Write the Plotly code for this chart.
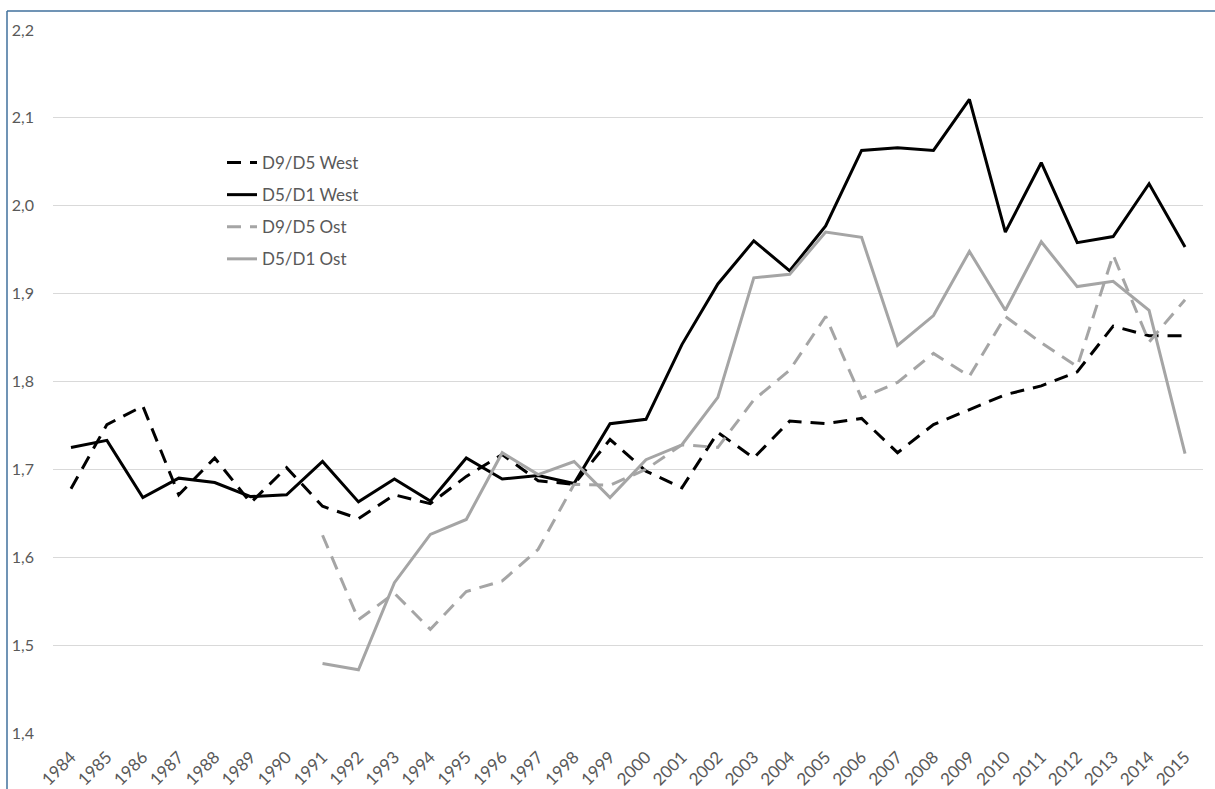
import plotly.graph_objects as go

years = [str(y) for y in range(1984, 2016)]

d9d5_west = [1.678, 1.751, 1.772, 1.671, 1.713, 1.662, 1.702, 1.658, 1.644, 1.671,
             1.661, 1.692, 1.717, 1.687, 1.683, 1.734, 1.698, 1.679, 1.742, 1.713,
             1.755, 1.752, 1.758, 1.719, 1.751, 1.768, 1.785, 1.795, 1.811, 1.863,
             1.852, 1.852]
d5d1_west = [1.725, 1.733, 1.668, 1.690, 1.685, 1.669, 1.671, 1.709, 1.663, 1.689,
             1.664, 1.713, 1.689, 1.693, 1.684, 1.752, 1.757, 1.842, 1.911, 1.960,
             1.926, 1.977, 2.063, 2.066, 2.063, 2.121, 1.970, 2.049, 1.958, 1.965,
             2.025, 1.953]
d9d5_ost = [None] * 7 + [1.625, 1.529, 1.559, 1.518, 1.561, 1.573, 1.609, 1.683, 1.682,
                         1.700, 1.728, 1.725, 1.779, 1.813, 1.874, 1.781, 1.799, 1.832,
                         1.806, 1.874, 1.844, 1.817, 1.944, 1.845, 1.893]
d5d1_ost = [None] * 7 + [1.479, 1.472, 1.571, 1.626, 1.643, 1.719, 1.694, 1.709, 1.668,
                         1.711, 1.728, 1.782, 1.918, 1.922, 1.970, 1.964, 1.841, 1.875,
                         1.948, 1.881, 1.959, 1.908, 1.914, 1.881, 1.718]

y_ticks = [1.4, 1.5, 1.6, 1.7, 1.8, 1.9, 2.0, 2.1, 2.2]

BLACK = "#000000"
GRAY = "#A5A5A5"
DASH = "14px,9px"

fig = go.Figure()
series = [
    ("D9/D5 West", d9d5_west, BLACK, DASH),
    ("D5/D1 West", d5d1_west, BLACK, "solid"),
    ("D9/D5 Ost", d9d5_ost, GRAY, DASH),
    ("D5/D1 Ost", d5d1_ost, GRAY, "solid"),
]
for i, (name, vals, col, dash) in enumerate(series):
    fig.add_trace(go.Scatter(
        x=years, y=vals, name=name, mode="lines", legendgroup=f"g{i}",
        line=dict(color=col, width=3, dash=dash),
        connectgaps=False,
    ))

L, R, T, B = 53, 12, 30, 56
W, H = 1215, 789
pw, ph = W - L - R, H - T - B

fig.update_layout(
    width=W, height=H,
    margin=dict(l=L, r=R, t=T, b=B),
    paper_bgcolor="white", plot_bgcolor="white",
    separators=", ",
    font=dict(family="Lato, 'Open Sans', sans-serif", color="#595959", size=16),
    showlegend=True,
    legend=dict(
        x=(222 - L) / pw, y=(T + ph - 145) / ph, xanchor="left", yanchor="top",
        bgcolor="rgba(0,0,0,0)", font=dict(size=17, color="#595959"),
        traceorder="grouped", tracegroupgap=7,
    ),
    xaxis=dict(
        type="category", range=[-0.5, len(years) - 0.5],
        tickangle=-45, showgrid=False, zeroline=False,
        showline=False, ticks="", automargin=False,
        ticklabelstandoff=10,
        tickfont=dict(size=17, color="#595959"),
    ),
    yaxis=dict(
        range=[1.4, 2.2], tickvals=y_ticks, tickformat=".1f",
        showgrid=True, gridcolor="#D9D9D9", gridwidth=1, zeroline=False,
        showline=False, ticks="", ticklabelstandoff=18, automargin=False,
        tickfont=dict(size=16, color="#595959"),
    ),
    shapes=[
        dict(type="line", xref="paper", yref="paper",
             x0=(7 - L) / pw, x1=(7 - L) / pw, y0=(T + ph - 11) / ph, y1=-B / ph - 0.01,
             line=dict(color="#41719C", width=1.5)),
        dict(type="line", xref="paper", yref="paper",
             x0=(7 - L) / pw, x1=1 + R / pw + 0.01, y0=(T + ph - 11) / ph, y1=(T + ph - 11) / ph,
             line=dict(color="#41719C", width=1.5)),
    ],
)

fig.write_html(
    "out.html",
    config={"displayModeBar": False},
    post_script="document.body.style.margin='0';document.body.style.overflow='hidden';",
)
